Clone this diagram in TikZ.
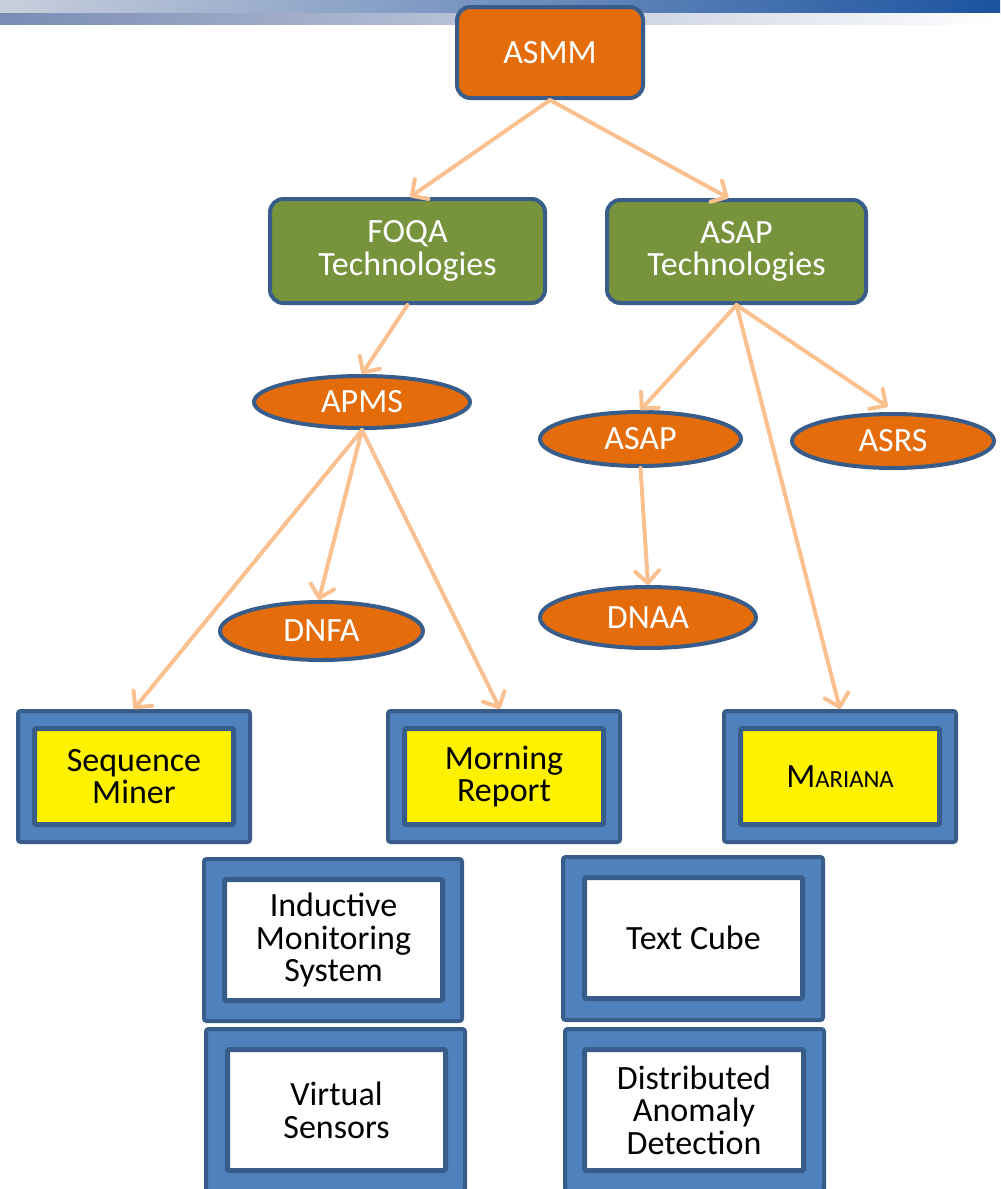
\documentclass[tikz,border=0pt]{standalone}
\usepackage{fontspec}
\setmainfont{Carlito}
\usetikzlibrary{shapes.geometric,arrows.meta,calc}
\definecolor{bord}{HTML}{385D8A}
\definecolor{bluefill}{HTML}{4F81BD}
\definecolor{orng}{HTML}{E46C0A}
\definecolor{grn}{HTML}{77933C}
\definecolor{arr}{HTML}{FAC090}
\definecolor{barA}{HTML}{C9CFDD}
\definecolor{barB}{HTML}{1B53A0}
\definecolor{barC}{HTML}{798CB4}
\begin{document}
\begin{tikzpicture}[x=0.75pt,y=-0.75pt,
  lbl/.style={font=\fontsize{25.5pt}{24.5pt}\selectfont, align=center, inner sep=0pt},
  topbox/.style={lbl, draw=bord, line width=3pt, rounded corners=10pt, text=white},
  ell/.style={lbl, ellipse, draw=bord, line width=3pt, fill=orng, text=white},
  outerbox/.style={draw=bord, fill=bluefill, line width=3pt, rounded corners=2pt, inner sep=0pt},
  innerbox/.style={lbl, draw=bord, line width=3.75pt, rounded corners=1pt, text=black},
  conn/.style={draw=arr, line width=3pt, line cap=round, -{Straight Barb[length=9pt,width=18pt,line cap=round,line join=round]}}
]
\useasboundingbox (0,0) rectangle (1000,1189);
% header bars
\shade[left color=barA, right color=barB] (0,0) rectangle (1000,13);
\shade[left color=barC, right color=white] (0,13) rectangle (1000,24);

% top level
\node[topbox, fill=orng, minimum width=139.5pt, minimum height=68.25pt] (asmm) at (550,52.5) {ASMM};
\node[topbox, fill=grn, minimum width=206.25pt, minimum height=78pt] (foqa) at (407.5,251) {FOQA\\Technologies};
\node[topbox, fill=grn, minimum width=194.25pt, minimum height=77.25pt] (asapt) at (736.5,251.5) {ASAP\\Technologies};

% ellipses
\node[ell, minimum width=162pt, minimum height=39pt] (apms) at (362,402) {APMS};
\node[ell, minimum width=150.75pt, minimum height=40.5pt] (asap) at (640.5,439) {ASAP};
\node[ell, minimum width=151.5pt, minimum height=40.5pt] (asrs) at (893,441) {ASRS};
\node[ell, minimum width=152.25pt, minimum height=43.5pt] (dnfa) at (321.5,631) {DNFA};
\node[ell, minimum width=162pt, minimum height=45.75pt] (dnaa) at (648,617.5) {DNAA};

% yellow boxes
\node[outerbox, minimum width=174pt, minimum height=98.25pt] (smo) at (134,776.5) {};
\node[innerbox, fill=yellow, minimum width=149.25pt, minimum height=72pt] (sm) at (134,776.5) {Sequence\\Miner};
\node[outerbox, minimum width=174pt, minimum height=98.25pt] (mro) at (504,776.5) {};
\node[innerbox, fill=yellow, minimum width=149.25pt, minimum height=72pt] (mr) at (504,776.5) {Morning\\Report};
\node[outerbox, minimum width=174pt, minimum height=98.25pt] (maro) at (840,776.5) {};
\node[innerbox, fill=yellow, minimum width=149.25pt, minimum height=72pt] (mar) at (840,776.5) {M{\fontsize{18.5pt}{20pt}\selectfont ARIANA}};

% white boxes
\node[outerbox, minimum width=193.5pt, minimum height=121.5pt] (imso) at (333,940) {};
\node[innerbox, fill=white, minimum width=163.5pt, minimum height=90.75pt] (ims) at (333.5,940) {Inductive\\Monitoring\\System};
\node[outerbox, minimum width=194.25pt, minimum height=121.5pt] (vso) at (335.5,1110) {};
\node[innerbox, fill=white, minimum width=163.5pt, minimum height=90.75pt] (vs) at (336.5,1110) {Virtual\\Sensors};
\node[outerbox, minimum width=195pt, minimum height=122.25pt] (tco) at (693,938.5) {};
\node[innerbox, fill=white, minimum width=163.5pt, minimum height=90.75pt] (tc) at (693.5,938) {Text Cube};
\node[outerbox, minimum width=194.25pt, minimum height=121.5pt] (dado) at (694.5,1110) {};
\node[innerbox, fill=white, minimum width=164.25pt, minimum height=90.75pt] (dad) at (694,1110) {Distributed\\Anomaly\\Detection};

% connectors
\draw[conn] (asmm.south) -- ([xshift=2pt]foqa.north);
\draw[conn] (asmm.south) -- ([xshift=-6pt]asapt.north);
\draw[conn] (foqa.south) -- (apms.north);
\draw[conn] (apms.south) -- (smo.north);
\draw[conn] (apms.south) -- ([xshift=-2pt]dnfa.north);
\draw[conn] (apms.south) -- ([xshift=-3pt]mro.north);
\draw[conn] (asapt.south) -- (asap.north);
\draw[conn] (asapt.south) -- ([xshift=-4pt,yshift=4pt]asrs.north);
\draw[conn] (asapt.south) -- (maro.north);
\draw[conn] (asap.south) -- (dnaa.north);
\end{tikzpicture}
\end{document}
